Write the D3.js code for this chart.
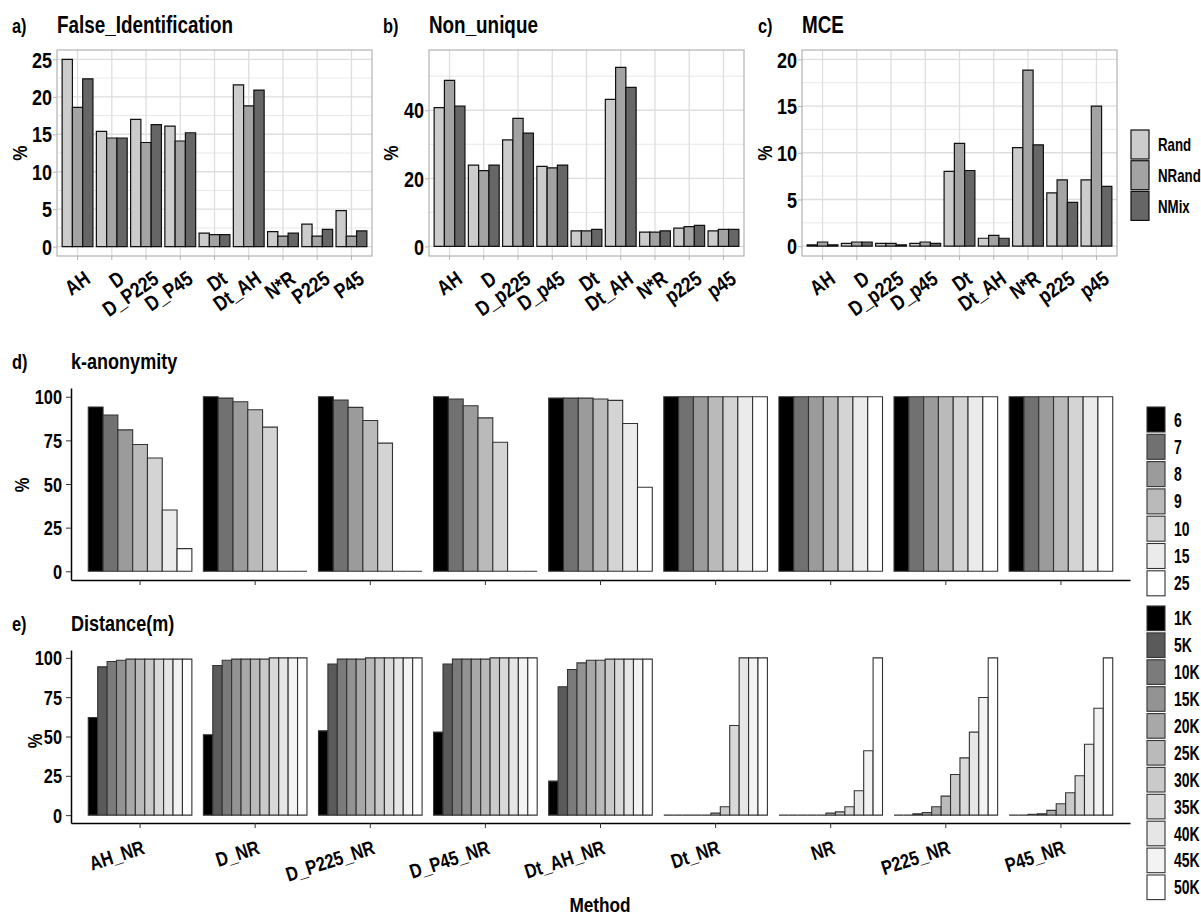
<!DOCTYPE html>
<html>
<head>
<meta charset="utf-8">
<script src="https://cdn.jsdelivr.net/npm/d3@7"></script>
<style>
  body { margin: 0; background: #fff; }
  svg text { font-family: "Liberation Sans", Arial, Helvetica, sans-serif; font-weight: bold; fill: #000; }
</style>
</head>
<body>
<svg id="chart" width="1201" height="917"></svg>
<script>
// ---- data ----
const seriesTop = ['Rand', 'NRand', 'NMix'];
const catsA = ['AH', 'D', 'D_P225', 'D_P45', 'Dt', 'Dt_AH', 'N*R', 'P225', 'P45'];
const catsBC = ['AH', 'D', 'D_p225', 'D_p45', 'Dt', 'Dt_AH', 'N*R', 'p225', 'p45'];

// one row per category: [Rand, NRand, NMix]
const falseIdent = [[25.0, 18.6, 22.4], [15.4, 14.5, 14.5], [17.0, 13.9, 16.3], [16.1, 14.1, 15.2],
  [1.8, 1.6, 1.6], [21.6, 18.8, 20.9], [2.0, 1.4, 1.8], [3.0, 1.4, 2.3], [4.8, 1.4, 2.1]];
const nonUnique = [[40.8, 48.8, 41.2], [23.9, 22.3, 23.9], [31.3, 37.6, 33.3], [23.5, 23.1, 23.9],
  [4.6, 4.6, 5.0], [43.2, 52.6, 46.7], [4.2, 4.2, 4.6], [5.4, 5.8, 6.2], [4.6, 5.0, 5.0]];
const mce = [[0.15, 0.45, 0.15], [0.3, 0.45, 0.45], [0.3, 0.3, 0.15], [0.3, 0.45, 0.3],
  [8.0, 11.0, 8.1], [0.85, 1.15, 0.85], [10.55, 18.85, 10.85], [5.7, 7.1, 4.7], [7.1, 15.0, 6.4]];

const ticksA = [0, 5, 10, 15, 20, 25];
const ticksB = [0, 20, 40];
const ticksC = [0, 5, 10, 15, 20];
const ticksPct = [0, 25, 50, 75, 100];

const methodsNR = ['AH_NR', 'D_NR', 'D_P225_NR', 'D_P45_NR', 'Dt_AH_NR', 'Dt_NR', 'NR', 'P225_NR', 'P45_NR'];
const kLevels = ['6', '7', '8', '9', '10', '15', '25'];
const kAnon = [
  [94.1, 89.5, 81.0, 72.6, 64.9, 35.1, 13.0],
  [100, 99.2, 97.1, 92.5, 82.6, 0, 0],
  [100, 98.1, 93.9, 86.4, 73.4, 0, 0],
  [100, 98.7, 94.8, 87.9, 73.9, 0, 0],
  [99.2, 99.2, 99.2, 98.7, 97.9, 84.7, 48.1],
  [100, 100, 100, 100, 100, 100, 100],
  [100, 100, 100, 100, 100, 100, 100],
  [100, 100, 100, 100, 100, 100, 100],
  [100, 100, 100, 100, 100, 100, 100]
];
const distLevels = ['1K', '5K', '10K', '15K', '20K', '25K', '30K', '35K', '40K', '45K', '50K'];
const distance = [
  [62.1, 94.3, 97.7, 98.5, 99.2, 99.2, 99.2, 99.2, 99.2, 99.2, 99.2],
  [51.1, 95.1, 98.5, 99.2, 99.2, 99.2, 99.2, 100, 100, 100, 100],
  [53.6, 96.0, 99.2, 99.2, 99.2, 100, 100, 100, 100, 100, 100],
  [52.8, 96.0, 99.2, 99.2, 99.2, 99.2, 100, 100, 100, 100, 100],
  [21.6, 81.6, 92.6, 96.8, 98.5, 98.5, 99.2, 99.2, 99.2, 99.2, 99.2],
  [0, 0, 0, 0, 0, 1.3, 5.3, 57.0, 100, 100, 100],
  [0, 0, 0, 0, 0, 1.3, 2.1, 5.3, 15.5, 40.9, 100],
  [0, 0, 0.8, 1.7, 5.3, 12.1, 25.8, 36.4, 52.8, 74.8, 100],
  [0, 0, 0.5, 0.8, 3.0, 7.2, 14.2, 25.0, 45.1, 68.0, 100]
];

// ---- styling ----
const topFill = d3.scaleOrdinal().domain(seriesTop).range(['#cccccc', '#a3a3a3', '#666666']);
const kFill = d3.scaleOrdinal().domain(kLevels)
  .range(['#000000', '#717171', '#9b9b9b', '#bababa', '#d4d4d4', '#ebebeb', '#ffffff']);
const distFill = d3.scaleOrdinal().domain(distLevels)
  .range(['#000000', '#5a5a5a', '#7b7b7b', '#939393', '#a8a8a8', '#bababa', '#cacaca', '#d9d9d9', '#e6e6e6', '#f3f3f3', '#ffffff']);

const SX = 0.82;   // condensed look of the original font
const SX_LEG = 0.7; // legend labels are squeezed a bit more
const svg = d3.select('#chart');

function txt(g, x, y, s, size, anchor = 'start', rot = 0, sx = SX) {
  return g.append('text')
    .attr('transform', `translate(${x},${y}) rotate(${rot}) scale(${sx},1)`)
    .attr('text-anchor', anchor)
    .style('font-size', size + 'px')
    .text(s);
}

function barPath(x, y0, w, y1) {
  return `M${x},${y0}V${y1}H${x + w}V${y0}Z`;
}

function styleYTicks(axisG, offset, size) {
  axisG.selectAll('.tick text')
    .attr('x', -offset / SX)
    .attr('dy', '0.35em')
    .attr('transform', `scale(${SX},1)`)
    .style('font-size', size + 'px');
}

// ---- top panels a, b, c ----
const TOP = 50, BOT = 256, PW = 315;
const topPanels = [
  { left: 57, cats: catsA, vals: falseIdent, domain: [-1.25, 26.25], ticks: ticksA, tag: 'a)', tagX: 12, title: 'False_Identification', pctX: 20 },
  { left: 429, cats: catsBC, vals: nonUnique, domain: [-2.8, 57.7], ticks: ticksB, tag: 'b)', tagX: 383, title: 'Non_unique', pctX: 391 },
  { left: 802, cats: catsBC, vals: mce, domain: [-1.05, 21], ticks: ticksC, tag: 'c)', tagX: 758, title: 'MCE', pctX: 765 }
];

topPanels.forEach(p => {
  const g = svg.append('g');
  const x = d3.scaleBand().domain(p.cats).range([p.left, p.left + PW]).paddingInner(0.1).paddingOuter(0.15);
  const xs = d3.scaleBand().domain(seriesTop).range([0, x.bandwidth()]);
  const y = d3.scaleLinear().domain(p.domain).range([BOT, TOP]);

  const step = p.ticks[1] - p.ticks[0];
  const minor = p.ticks.map(t => t + step / 2).filter(v => v < p.domain[1]);

  // grid
  g.selectAll('.minor').data(minor).join('line')
    .attr('x1', p.left).attr('x2', p.left + PW)
    .attr('y1', d => y(d)).attr('y2', d => y(d))
    .attr('stroke', '#e3e3e3').attr('stroke-width', 0.8);
  g.selectAll('.major').data(p.ticks).join('line')
    .attr('x1', p.left).attr('x2', p.left + PW)
    .attr('y1', d => y(d)).attr('y2', d => y(d))
    .attr('stroke', '#dedede').attr('stroke-width', 1.3);
  g.selectAll('.vgrid').data(p.cats).join('line')
    .attr('x1', d => x(d) + x.bandwidth() / 2).attr('x2', d => x(d) + x.bandwidth() / 2)
    .attr('y1', TOP).attr('y2', BOT)
    .attr('stroke', '#dedede').attr('stroke-width', 1.3);

  // bars
  p.cats.forEach((c, i) => {
    g.selectAll(null).data(seriesTop).join('path')
      .attr('d', (s, j) => barPath(x(c) + xs(s), y(0), xs.bandwidth(), y(p.vals[i][j])))
      .attr('fill', s => topFill(s))
      .attr('stroke', '#111').attr('stroke-width', 1.2);
  });

  // border
  g.append('rect').attr('x', p.left).attr('y', TOP).attr('width', PW).attr('height', BOT - TOP)
    .attr('fill', 'none').attr('stroke', '#b3b3b3').attr('stroke-width', 1.2);

  // axes
  const ya = g.append('g').attr('transform', `translate(${p.left},0)`)
    .call(d3.axisLeft(y).tickValues(p.ticks).tickSize(4).tickSizeOuter(0));
  ya.select('.domain').remove();
  ya.selectAll('.tick line').attr('stroke', '#b3b3b3');
  styleYTicks(ya, 5, 22);

  const xa = g.append('g').attr('transform', `translate(0,${BOT})`)
    .call(d3.axisBottom(x).tickSize(4).tickSizeOuter(0));
  xa.select('.domain').remove();
  xa.selectAll('.tick line').attr('stroke', '#b3b3b3');
  xa.selectAll('.tick text')
    .attr('y', null).attr('dy', '0.75em')
    .attr('text-anchor', 'end')
    .attr('transform', `translate(5,13) rotate(-35) scale(${SX},1)`)
    .style('font-size', '21px');

  // labels
  txt(g, p.tagX, 33, p.tag, 20);
  txt(g, p.left, 33, p.title, 23);
  txt(g, p.pctX, 153, '%', 21, 'middle', -90).attr('dy', '0.35em');
});

// top legend
const lgTop = svg.append('g');
seriesTop.forEach((s, i) => {
  lgTop.append('rect').attr('x', 1131).attr('y', 130 + i * 30.7).attr('width', 18).attr('height', 29)
    .attr('fill', topFill(s)).attr('stroke', '#111').attr('stroke-width', 1.2);
  txt(lgTop, 1158, 130 + i * 30.7 + 14.5, s, 19, 'start', 0, SX_LEG).attr('dy', '0.35em');
});

// ---- bottom panels d, e ----
const LEFT = 71, RIGHT = 1130;
function bottomPanel(p) {
  const g = svg.append('g');
  const x = d3.scaleBand().domain(methodsNR).range([LEFT, RIGHT]).paddingInner(0.1).paddingOuter(0.15);
  const xs = d3.scaleBand().domain(p.levels).range([0, x.bandwidth()]);
  const y = d3.scaleLinear().domain([-5, 105]).range([p.bottom, p.top]);

  methodsNR.forEach((m, i) => {
    g.selectAll(null).data(p.levels).join('path')
      .attr('d', (l, j) => barPath(x(m) + xs(l), y(0), xs.bandwidth(), y(p.vals[i][j])))
      .attr('fill', l => p.fill(l))
      .attr('stroke', '#333').attr('stroke-width', 1.1);
  });

  const ya = g.append('g').attr('transform', `translate(${LEFT},0)`)
    .call(d3.axisLeft(y).tickValues(ticksPct).tickSize(5).tickSizeOuter(0));
  ya.select('.domain').attr('stroke', '#000').attr('stroke-width', 1.5);
  ya.selectAll('.tick line').attr('stroke', '#333');
  styleYTicks(ya, 9, 20);

  const xa = g.append('g').attr('transform', `translate(0,${p.bottom})`)
    .call(d3.axisBottom(x).tickSize(5).tickSizeOuter(0));
  xa.select('.domain').attr('stroke', '#000').attr('stroke-width', 1.5);
  xa.selectAll('.tick line').attr('stroke', '#333');
  if (p.showX) {
    xa.selectAll('.tick text')
      .attr('y', null).attr('dy', '0.75em')
      .attr('text-anchor', 'end')
      .attr('transform', `translate(1,16) rotate(-18) scale(${SX},1)`)
      .style('font-size', '20px');
  } else {
    xa.selectAll('.tick text').remove();
  }

  txt(g, 12, p.titleY, p.tag, 20);
  txt(g, LEFT, p.titleY, p.title, 22);
  txt(g, p.pctX, p.pctY, '%', 20, 'middle', -90).attr('dy', '0.35em');

  // legend
  p.levels.forEach((l, i) => {
    const ky = p.legY + i * p.legStep;
    g.append('rect').attr('x', 1147).attr('y', ky).attr('width', 18).attr('height', p.legStep - 2.3)
      .attr('fill', p.fill(l)).attr('stroke', '#333').attr('stroke-width', 1.1);
    txt(g, 1174, ky + (p.legStep - 2.3) / 2, l, 20, 'start', 0, SX_LEG).attr('dy', '0.35em');
  });
}

bottomPanel({ levels: kLevels, vals: kAnon, fill: kFill, top: 388, bottom: 580, showX: false,
  tag: 'd)', title: 'k-anonymity', titleY: 369, pctX: 22, pctY: 485, legY: 407, legStep: 27.3 });
bottomPanel({ levels: distLevels, vals: distance, fill: distFill, top: 650, bottom: 823, showX: true,
  tag: 'e)', title: 'Distance(m)', titleY: 631, pctX: 35, pctY: 741, legY: 606, legStep: 26.9 });

txt(svg, 600, 912, 'Method', 21, 'middle');
</script>
</body>
</html>
